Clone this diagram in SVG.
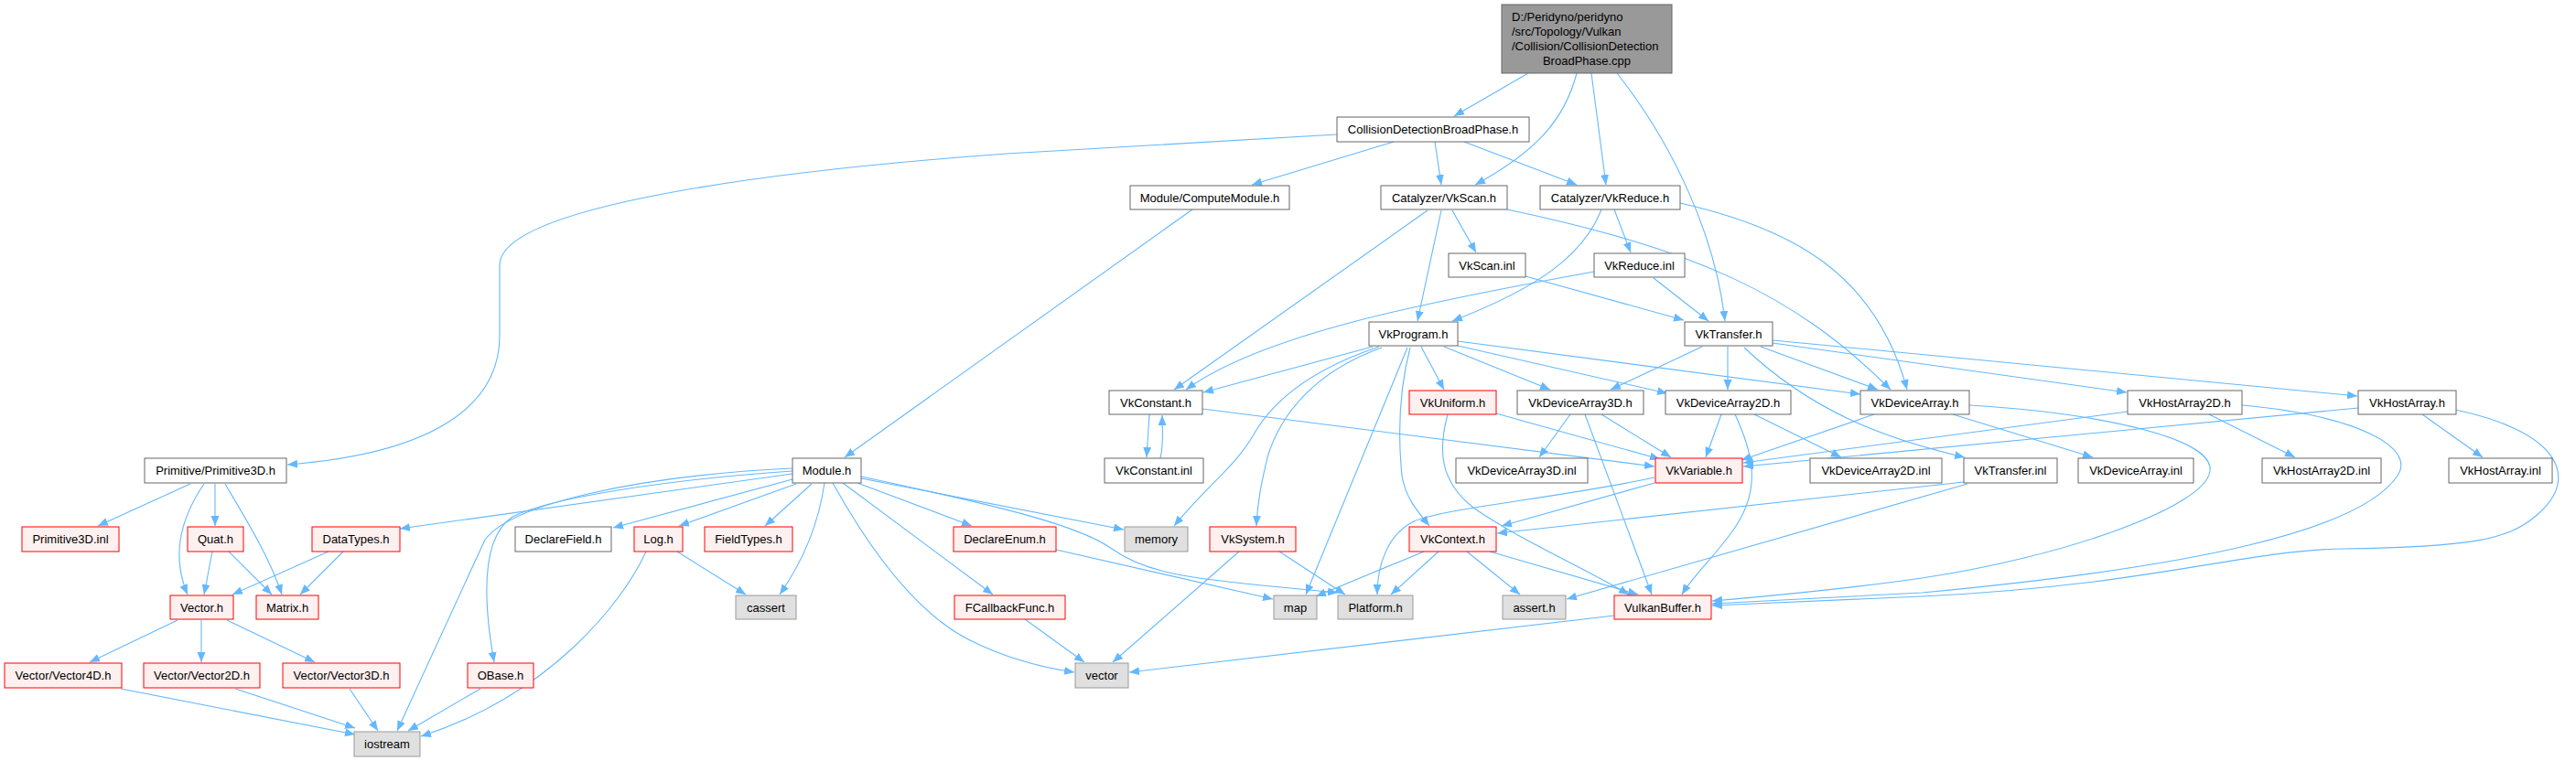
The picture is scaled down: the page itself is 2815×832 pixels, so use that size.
<svg xmlns="http://www.w3.org/2000/svg" width="2815" height="832" viewBox="0 0 2815 832">
<style>
text{font-family:"Liberation Sans",Arial,sans-serif;font-size:13px;fill:#000;text-anchor:middle}
.w{fill:#fff;stroke:#666;stroke-width:1}
.r{fill:#FFF0F0;stroke:#f00;stroke-width:1}
.g{fill:#E0E0E0;stroke:#999;stroke-width:1}
.root{fill:#999;stroke:#666;stroke-width:1}
#edges path{fill:none;stroke:#63B8FF;stroke-width:1.1;marker-end:url(#ah)}
</style>
<defs>
<marker id="ah" markerUnits="userSpaceOnUse" markerWidth="12" markerHeight="10" refX="11" refY="4.5" orient="auto">
<path d="M0,0 L11,4.5 L0,9 z" fill="#63B8FF"/>
</marker>
</defs>
<rect width="2815" height="832" fill="#fff"/>
<g id="edges">
<path d="M1670,80 L1589,127"/>
<path d="M1723,80 C1710,130 1680,165 1612,202"/>
<path d="M1739,80 L1755,202"/>
<path d="M1767,80 C1830,160 1875,260 1885,351"/>
<path d="M1568,155 L1575,202"/>
<path d="M1600,155 L1723,202"/>
<path d="M1523,155 L1368,202"/>
<path d="M1461,147 L1100,168 C800,190 546,230 546,290 L546,367 C546,440 480,495 314,508"/>
<path d="M1303,229 L923,500"/>
<path d="M1587,230 L1613,276"/>
<path d="M1575,230 L1549,351"/>
<path d="M1560,230 L1283,426"/>
<path d="M1647,229 C1850,272 1960,320 2066,426"/>
<path d="M1764,229 L1782,276"/>
<path d="M1750,229 C1730,280 1680,315 1587,351"/>
<path d="M1836,222 C1960,250 2050,300 2084,426"/>
<path d="M1667,302 L1840,350"/>
<path d="M1807,304 L1867,351"/>
<path d="M1742,297 C1560,330 1380,365 1296,426"/>
<path d="M1500,379 L1315,429"/>
<path d="M1553,379 L1578,426"/>
<path d="M1578,379 L1694,426"/>
<path d="M1593,378 L1822,430"/>
<path d="M1593,373 L2033,431"/>
<path d="M1507,379 C1430,405 1390,440 1370,475 C1350,510 1320,530 1283,575"/>
<path d="M1510,380 C1440,405 1400,450 1385,500 C1378,530 1374,550 1373,575"/>
<path d="M1538,380 L1427,650"/>
<path d="M1541,380 C1528,430 1528,480 1532,520 C1536,545 1550,560 1562,575"/>
<path d="M1860,379 L1760,426"/>
<path d="M1888,379 L1888,426"/>
<path d="M1924,379 L2052,426"/>
<path d="M1937,375 L2324,429"/>
<path d="M1937,372 L2576,433"/>
<path d="M1906,380 C1980,450 2060,480 2147,500"/>
<path d="M1256,453 L1253,500"/>
<path d="M1268,501 C1272,485 1270,470 1270,454"/>
<path d="M1314,447 L1808,510"/>
<path d="M1635,452 L1814,502"/>
<path d="M1716,453 L1682,500"/>
<path d="M1732,453 L1805,650"/>
<path d="M1750,453 L1826,500"/>
<path d="M1881,453 L1864,500"/>
<path d="M1896,453 C1918,500 1925,540 1890,585 C1870,612 1850,630 1838,650"/>
<path d="M1917,453 L2012,500"/>
<path d="M2048,453 L1903,503"/>
<path d="M2134,453 L2287,500"/>
<path d="M2152,443 C2300,452 2420,480 2415,515 C2410,555 2250,610 2100,632 C2010,645 1930,652 1871,657"/>
<path d="M2325,450 L1905,506"/>
<path d="M2414,453 L2508,500"/>
<path d="M2450,443 C2580,455 2640,490 2620,520 C2580,580 2400,620 2100,648 L1871,660"/>
<path d="M2577,446 L1905,510"/>
<path d="M2647,453 L2713,500"/>
<path d="M2683,448 C2790,470 2825,520 2770,565 C2740,590 2700,598 2560,600 C2450,602 2350,640 2100,652 L1871,662"/>
<path d="M1582,453 C1572,490 1572,525 1610,555 C1660,590 1730,620 1780,650"/>
<path d="M1808,528 L1641,575"/>
<path d="M1808,522 C1700,545 1580,555 1545,570 C1515,585 1505,620 1505,650"/>
<path d="M2146,527 L1636,583"/>
<path d="M2150,529 L1712,655"/>
<path d="M1556,603 L1438,652"/>
<path d="M1572,603 L1520,650"/>
<path d="M1603,603 L1661,650"/>
<path d="M1628,603 L1790,650"/>
<path d="M1764,673 L1234,735"/>
<path d="M1354,603 L1216,724"/>
<path d="M1398,603 L1470,650"/>
<path d="M1154,601 L1391,655"/>
<path d="M1120,677 L1185,724"/>
<path d="M941,521 C1100,555 1180,575 1215,600 C1250,625 1290,632 1410,643 L1462,648"/>
<path d="M941,523 L1228,579"/>
<path d="M937,528 L1062,575"/>
<path d="M921,528 L1085,650"/>
<path d="M910,528 C950,600 1000,670 1060,700 C1100,720 1140,730 1174,735"/>
<path d="M901,528 C895,570 880,610 852,650"/>
<path d="M887,529 L836,575"/>
<path d="M870,529 L742,575"/>
<path d="M866,518 L437,578"/>
<path d="M866,524 L670,577"/>
<path d="M866,512 C700,520 560,550 530,590 L434,799"/>
<path d="M866,515 C720,525 600,545 560,565 C530,585 525,640 540,724"/>
<path d="M740,603 L815,650"/>
<path d="M706,603 C680,660 600,760 460,805"/>
<path d="M525,753 L446,799"/>
<path d="M382,753 L413,799"/>
<path d="M257,753 L388,796"/>
<path d="M132,753 L388,803"/>
<path d="M194,678 L98,724"/>
<path d="M220,678 L220,724"/>
<path d="M248,678 L344,724"/>
<path d="M359,603 L254,650"/>
<path d="M375,603 L328,650"/>
<path d="M232,603 L223,650"/>
<path d="M250,603 L297,650"/>
<path d="M208,529 L107,575"/>
<path d="M235,529 L235,575"/>
<path d="M223,529 C195,570 188,610 205,650"/>
<path d="M246,529 C270,570 295,610 308,650"/>
</g>
<g id="n_root"><rect class="root" x="1641" y="5" width="186" height="75"/>
<text x="1652" y="23" style="text-anchor:start">D:/Peridyno/peridyno</text>
<text x="1652" y="39" style="text-anchor:start">/src/Topology/Vulkan</text>
<text x="1652" y="55" style="text-anchor:start">/Collision/CollisionDetection</text>
<text x="1734" y="71">BroadPhase.cpp</text></g>
<g id="n_cdbp"><rect class="w" x="1461" y="128" width="210" height="27"/><text x="1566" y="146">CollisionDetectionBroadPhase.h</text></g>
<g id="n_computemodule"><rect class="w" x="1235" y="203" width="174" height="26"/><text x="1322" y="221">Module/ComputeModule.h</text></g>
<g id="n_vkscan"><rect class="w" x="1509" y="203" width="138" height="26"/><text x="1578" y="221">Catalyzer/VkScan.h</text></g>
<g id="n_vkreduce"><rect class="w" x="1683" y="203" width="153" height="26"/><text x="1759.5" y="221">Catalyzer/VkReduce.h</text></g>
<g id="n_vkscaninl"><rect class="w" x="1583" y="277" width="84" height="26"/><text x="1625" y="295">VkScan.inl</text></g>
<g id="n_vkreduceinl"><rect class="w" x="1742" y="277" width="99" height="26"/><text x="1791.5" y="295">VkReduce.inl</text></g>
<g id="n_vkprogram"><rect class="w" x="1496" y="352" width="97" height="26"/><text x="1544.5" y="370">VkProgram.h</text></g>
<g id="n_vktransfer"><rect class="w" x="1841" y="352" width="96" height="26"/><text x="1889" y="370">VkTransfer.h</text></g>
<g id="n_primitive3d"><rect class="w" x="158" y="501" width="155" height="27"/><text x="235.5" y="519">Primitive/Primitive3D.h</text></g>
<g id="n_module"><rect class="w" x="866" y="501" width="75" height="27"/><text x="903.5" y="519">Module.h</text></g>
<g id="n_vkconstant"><rect class="w" x="1212" y="427" width="102" height="26"/><text x="1263" y="445">VkConstant.h</text></g>
<g id="n_vkuniform"><rect class="r" x="1540" y="427" width="95" height="26"/><text x="1587.5" y="445">VkUniform.h</text></g>
<g id="n_vkda3d"><rect class="w" x="1658" y="427" width="138" height="26"/><text x="1727" y="445">VkDeviceArray3D.h</text></g>
<g id="n_vkda2d"><rect class="w" x="1820" y="427" width="137" height="26"/><text x="1888.5" y="445">VkDeviceArray2D.h</text></g>
<g id="n_vkda"><rect class="w" x="2033" y="427" width="119" height="26"/><text x="2092.5" y="445">VkDeviceArray.h</text></g>
<g id="n_vkha2d"><rect class="w" x="2325" y="427" width="125" height="26"/><text x="2387.5" y="445">VkHostArray2D.h</text></g>
<g id="n_vkha"><rect class="w" x="2577" y="427" width="107" height="26"/><text x="2630.5" y="445">VkHostArray.h</text></g>
<g id="n_vkconstantinl"><rect class="w" x="1207" y="501" width="108" height="27"/><text x="1261" y="519">VkConstant.inl</text></g>
<g id="n_vkda3dinl"><rect class="w" x="1591" y="501" width="144" height="27"/><text x="1663" y="519">VkDeviceArray3D.inl</text></g>
<g id="n_vkvariable"><rect class="r" x="1809" y="501" width="95" height="27"/><text x="1856.5" y="519">VkVariable.h</text></g>
<g id="n_vkda2dinl"><rect class="w" x="1978" y="501" width="144" height="27"/><text x="2050" y="519">VkDeviceArray2D.inl</text></g>
<g id="n_vktransferinl"><rect class="w" x="2146" y="501" width="102" height="27"/><text x="2197" y="519">VkTransfer.inl</text></g>
<g id="n_vkdainl"><rect class="w" x="2271" y="501" width="126" height="27"/><text x="2334" y="519">VkDeviceArray.inl</text></g>
<g id="n_vkha2dinl"><rect class="w" x="2472" y="501" width="130" height="27"/><text x="2537" y="519">VkHostArray2D.inl</text></g>
<g id="n_vkhainl"><rect class="w" x="2676" y="501" width="113" height="27"/><text x="2732.5" y="519">VkHostArray.inl</text></g>
<g id="n_primitive3dinl"><rect class="r" x="24" y="576" width="106" height="27"/><text x="77" y="594">Primitive3D.inl</text></g>
<g id="n_quat"><rect class="r" x="205" y="576" width="61" height="27"/><text x="235.5" y="594">Quat.h</text></g>
<g id="n_datatypes"><rect class="r" x="341" y="576" width="96" height="27"/><text x="389" y="594">DataTypes.h</text></g>
<g id="n_declarefield"><rect class="w" x="563" y="576" width="105" height="27"/><text x="615.5" y="594">DeclareField.h</text></g>
<g id="n_log"><rect class="r" x="693" y="576" width="53" height="27"/><text x="719.5" y="594">Log.h</text></g>
<g id="n_fieldtypes"><rect class="r" x="770" y="576" width="96" height="27"/><text x="818" y="594">FieldTypes.h</text></g>
<g id="n_declareenum"><rect class="r" x="1042" y="576" width="112" height="27"/><text x="1098" y="594">DeclareEnum.h</text></g>
<g id="n_memory"><rect class="g" x="1229" y="576" width="69" height="27"/><text x="1263.5" y="594">memory</text></g>
<g id="n_vksystem"><rect class="r" x="1322" y="576" width="94" height="27"/><text x="1369" y="594">VkSystem.h</text></g>
<g id="n_vkcontext"><rect class="r" x="1540" y="576" width="95" height="27"/><text x="1587.5" y="594">VkContext.h</text></g>
<g id="n_vector"><rect class="r" x="186" y="651" width="69" height="26"/><text x="220.5" y="669">Vector.h</text></g>
<g id="n_matrix"><rect class="r" x="280" y="651" width="68" height="26"/><text x="314" y="669">Matrix.h</text></g>
<g id="n_cassert"><rect class="g" x="804" y="651" width="66" height="26"/><text x="837" y="669">cassert</text></g>
<g id="n_fcallback"><rect class="r" x="1043" y="651" width="121" height="26"/><text x="1103.5" y="669">FCallbackFunc.h</text></g>
<g id="n_map"><rect class="g" x="1392" y="651" width="47" height="26"/><text x="1415.5" y="669">map</text></g>
<g id="n_platform"><rect class="g" x="1462" y="651" width="82" height="26"/><text x="1503" y="669">Platform.h</text></g>
<g id="n_asserth"><rect class="g" x="1642" y="651" width="69" height="26"/><text x="1676.5" y="669">assert.h</text></g>
<g id="n_vulkanbuffer"><rect class="r" x="1764" y="651" width="106" height="26"/><text x="1817" y="669">VulkanBuffer.h</text></g>
<g id="n_vector4d"><rect class="r" x="5" y="725" width="128" height="27"/><text x="69" y="743">Vector/Vector4D.h</text></g>
<g id="n_vector2d"><rect class="r" x="157" y="725" width="127" height="27"/><text x="220.5" y="743">Vector/Vector2D.h</text></g>
<g id="n_vector3d"><rect class="r" x="309" y="725" width="128" height="27"/><text x="373" y="743">Vector/Vector3D.h</text></g>
<g id="n_obase"><rect class="r" x="511" y="725" width="72" height="27"/><text x="547" y="743">OBase.h</text></g>
<g id="n_vectorstd"><rect class="g" x="1175" y="725" width="58" height="27"/><text x="1204" y="743">vector</text></g>
<g id="n_iostream"><rect class="g" x="387" y="800" width="72" height="27"/><text x="423" y="818">iostream</text></g>
</svg>
